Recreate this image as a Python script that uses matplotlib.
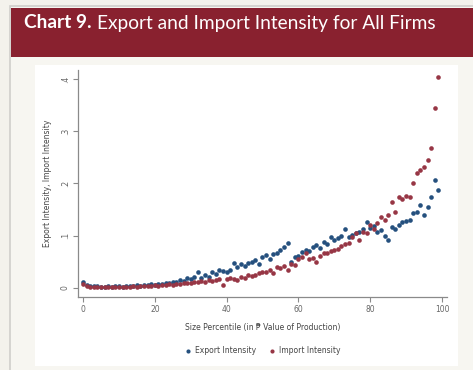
import numpy as np
import matplotlib
matplotlib.use("Agg")
import matplotlib.pyplot as plt
from matplotlib.patches import Rectangle

# Size percentiles of firms
percentile = list(range(100))

# Export intensity by size percentile
export_intensity = [
    0.012, 0.006, 0.004, 0.003, 0.003, 0.002, 0.002, 0.003, 0.002, 0.003,
    0.003, 0.002, 0.004, 0.003, 0.004, 0.005, 0.004, 0.006, 0.005, 0.007,
    0.006, 0.008, 0.007, 0.010, 0.009, 0.012, 0.011, 0.015, 0.013, 0.020,
    0.017, 0.022, 0.030, 0.020, 0.025, 0.022, 0.030, 0.026, 0.035, 0.033,
    0.030, 0.034, 0.048, 0.040, 0.045, 0.042, 0.048, 0.050, 0.054, 0.046,
    0.059, 0.063, 0.055, 0.065, 0.067, 0.072, 0.078, 0.086, 0.050, 0.060,
    0.062, 0.068, 0.073, 0.070, 0.078, 0.082, 0.076, 0.088, 0.085, 0.098,
    0.092, 0.096, 0.100, 0.113, 0.097, 0.102, 0.105, 0.108, 0.112, 0.126,
    0.115, 0.118, 0.108, 0.111, 0.100, 0.092, 0.117, 0.113, 0.120, 0.126,
    0.128, 0.130, 0.143, 0.145, 0.159, 0.140, 0.155, 0.174, 0.207, 0.188,
]

# Import intensity by size percentile
import_intensity = [
    0.008, 0.003, 0.002, 0.001, 0.002, 0.001, 0.001, 0.002, 0.001, 0.002,
    0.002, 0.001, 0.002, 0.002, 0.003, 0.002, 0.003, 0.004, 0.003, 0.004,
    0.005, 0.004, 0.006, 0.005, 0.007, 0.006, 0.008, 0.007, 0.009, 0.010,
    0.009, 0.012, 0.011, 0.013, 0.012, 0.015, 0.014, 0.016, 0.018, 0.006,
    0.017, 0.020, 0.018, 0.015, 0.022, 0.020, 0.025, 0.023, 0.025, 0.028,
    0.031, 0.031, 0.035, 0.028, 0.040, 0.038, 0.042, 0.035, 0.046, 0.044,
    0.055, 0.060, 0.067, 0.055, 0.058, 0.050, 0.062, 0.067, 0.067, 0.070,
    0.073, 0.075, 0.080, 0.085, 0.086, 0.098, 0.105, 0.092, 0.108, 0.105,
    0.120, 0.112, 0.125, 0.136, 0.130, 0.140, 0.165, 0.145, 0.174, 0.170,
    0.176, 0.174, 0.200, 0.220, 0.226, 0.232, 0.245, 0.268, 0.345, 0.404,
]

y_ticks = [0, 0.1, 0.2, 0.3, 0.4]
y_tick_labels = ["0", ".1", ".2", ".3", ".4"]
x_ticks = [0, 20, 40, 60, 80, 100]

W, H = 473, 370
fig = plt.figure(figsize=(W / 100, H / 100), dpi=100)
fig.patch.set_facecolor("#f4f2ec")


def px_rect(x0, y0, x1, y1, **kw):
    """Rectangle in pixel coordinates (origin top-left), behind the axes."""
    r = Rectangle((x0 / W, 1 - y1 / H), (x1 - x0) / W, (y1 - y0) / H,
                  transform=fig.transFigure, zorder=-10, **kw)
    fig.add_artist(r)
    return r


# Panel frame, title banner and the white chart area
px_rect(10, 6, 474, 372, facecolor="#f7f6f1", edgecolor="#d0cfcb", linewidth=1.2)
px_rect(11, 8, 474, 57, facecolor="#89212f", edgecolor="none")
px_rect(35, 65, 458, 366, facecolor="white", edgecolor="none")

# Title: bold lead-in followed by the regular-weight title
title_size = 13.8
t1 = fig.text(24 / W, 1 - 23 / H, "Chart 9.", color="white", fontsize=title_size,
              fontweight="bold", va="center", ha="left", family="Lato")
renderer = fig.canvas.get_renderer()
bb = t1.get_window_extent(renderer=renderer)
fig.text((bb.x1 + 5) / W, 1 - 23 / H, "Export and Import Intensity for All Firms",
         color="white", fontsize=title_size, va="center", ha="left", family="Lato")

ax = fig.add_axes([78 / W, 1 - 297 / H, (447 - 78) / W, (297 - 70) / H])
ax.set_facecolor("none")

blue = "#25507e"
red = "#973645"
ax.scatter(percentile, export_intensity, s=11, color=blue, linewidths=0,
           label="Export Intensity", zorder=3)
ax.scatter(percentile, import_intensity, s=11, color=red, linewidths=0,
           label="Import Intensity", zorder=3)

ax.set_xlim(-1.4, 101.4)
ax.set_ylim(-0.0172, 0.417)
ax.set_xticks(x_ticks)
ax.set_yticks(y_ticks)
ax.set_yticklabels(y_tick_labels, rotation=90, va="center")

for s in ("top", "right"):
    ax.spines[s].set_visible(False)
for s in ("left", "bottom"):
    ax.spines[s].set_color("#8a8a8a")
    ax.spines[s].set_linewidth(0.9)
ax.tick_params(axis="both", colors="#8a8a8a", length=3.5, width=0.8,
               labelsize=5.5, labelcolor="#666666", pad=2.5)

ax.set_xlabel("Size Percentile (in \u20b1 Value of Production)", fontsize=5.5,
              color="#444444", labelpad=6)
ax.set_ylabel("Export Intensity, Import Intensity", fontsize=5.5,
              color="#444444", labelpad=6)

ax.legend(loc="center", bbox_to_anchor=(0.5, -0.235), ncol=2, frameon=False,
          fontsize=5.5, labelcolor="#444444", handletextpad=0.4,
          columnspacing=1.6, markerscale=0.9, handlelength=1.0)

fig.savefig("out.png", dpi=100, facecolor=fig.get_facecolor())
